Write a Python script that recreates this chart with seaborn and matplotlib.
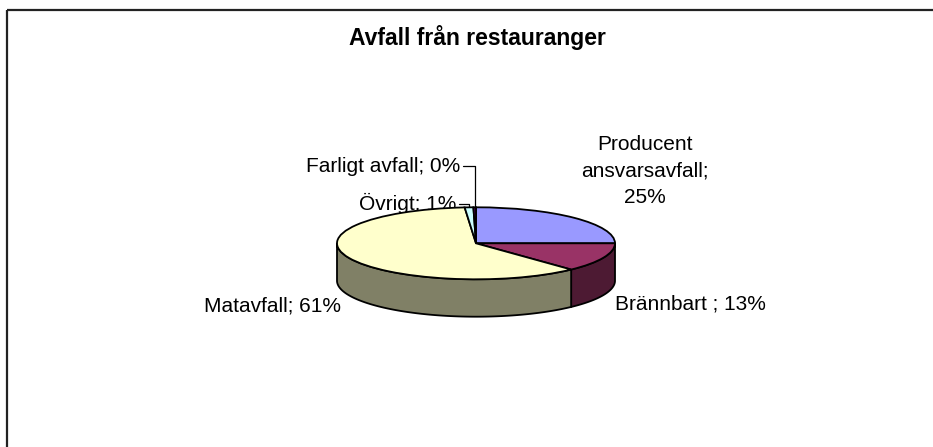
import numpy as np
import matplotlib
matplotlib.use("Agg")
import matplotlib.pyplot as plt
import seaborn as sns
from matplotlib.colors import to_rgb

# ---- data ----
names = ["Producent\nansvarsavfall", "Brännbart ", "Matavfall", "Övrigt", "Farligt avfall"]
values = [25.0, 13.0, 60.7, 1.0, 0.3]
colors = ["#9999FF", "#993366", "#FFFFCC", "#CCFFFF", "#660066"]
title = "Avfall från restauranger"

sns.set_theme(style="white")
plt.rcParams["font.family"] = ["Liberation Sans", "DejaVu Sans"]

W, H = 933, 447
fig = plt.figure(figsize=(W / 100, H / 100), dpi=100)
fig.patch.set_facecolor("white")

# overlay axes in pixel coordinates
ov = fig.add_axes([0, 0, 1, 1])
ov.set_xlim(0, W)
ov.set_ylim(H, 0)
ov.axis("off")
ov.plot([7, W + 5], [10, 10], color="#222222", lw=1.6, solid_capstyle="butt", clip_on=False)
ov.plot([7, 7], [10, H + 5], color="#222222", lw=1.6, solid_capstyle="butt", clip_on=False)
ov.text(477, 45.5, title, ha="center", va="baseline", fontsize=16.5, fontweight="bold", color="black")

# pie geometry (pixels)
CX, CY, RX, RY, DEPTH = 476, 243.3, 139, 36, 37.4
d = DEPTH / RY
ax = fig.add_axes([(CX - RX) / W, (H - (CY + RY + DEPTH)) / H, 2 * RX / W, (2 * RY + DEPTH) / H])
ax.set_zorder(2)
wedges, _ = ax.pie(values, colors=colors, startangle=90, counterclock=False, radius=1,
                   wedgeprops=dict(edgecolor="black", linewidth=1.3))
for w in wedges:
    w.set_clip_on(False)
ax.set_aspect("auto")
ax.set_xlim(-1, 1)
ax.set_ylim(-1 - d, 1)
ax.axis("off")

vals = np.array(values)
fr = vals / vals.sum()
cum = np.concatenate([[0], np.cumsum(fr)])
for i, c in enumerate(colors):
    hi = 90 - 360 * cum[i]
    lo = 90 - 360 * cum[i + 1]
    dark = tuple(np.array(to_rgb(c)) * 0.5)
    for k in (-1, 0, 1):
        a = max(lo + 360 * k, -180)
        b = min(hi + 360 * k, 0)
        if b - a > 1e-6:
            t = np.radians(np.linspace(a, b, 120))
            xs = np.cos(t)
            ys = np.sin(t)
            ax.fill(np.concatenate([xs, xs[::-1]]), np.concatenate([ys, ys[::-1] - d]),
                    facecolor=dark, edgecolor="black", linewidth=1.3, zorder=0.5, clip_on=False)

# labels
pcts = [f"{round(100 * f):.0f}%" for f in fr]
texts = [f"{n};" + ("\n" if "\n" in n else " ") + p for n, p in zip(names, pcts)]
label_pos = [(645, 171, "center", "center"), (615, 310, "left", "baseline"),
             (341, 312, "right", "baseline"), (456, 210, "right", "baseline"),
             (460, 172, "right", "baseline")]
for txt, (x, y, ha, va) in zip(texts, label_pos):
    ov.text(x, y, txt, ha=ha, va=va, fontsize=15, color="black", linespacing=1.47,
            multialignment="center", zorder=3)

# leader lines for the small slices
mids = 90 - 360 * (cum[:-1] + cum[1:]) / 2
for i, ly in ((3, 204), (4, 166)):
    m = np.radians(mids[i])
    axp = CX + RX * np.cos(m)
    ayp = CY - RY * np.sin(m)
    tx = label_pos[i][0] + 3
    ov.plot([tx, axp, axp], [ly, ly, ayp], color="black", lw=0.9, zorder=3)

fig.savefig("out.png", dpi=100)
